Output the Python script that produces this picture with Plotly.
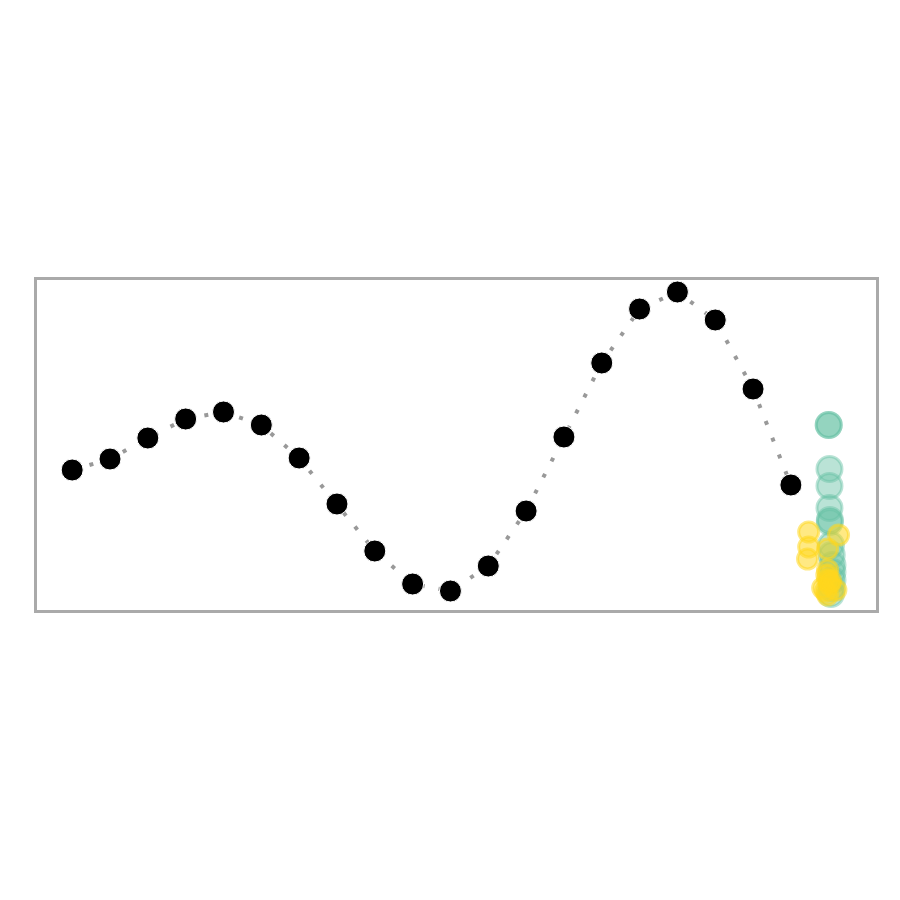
import plotly.graph_objects as go

# main series
x_main = list(range(20))
y_main = [1.40, 1.51, 1.72, 1.91, 1.98, 1.85, 1.52, 1.06, 0.59, 0.26,
          0.19, 0.44, 0.99, 1.73, 2.47, 3.01, 3.18, 2.90, 2.21, 1.25]

# green cluster
x_green = [20.0, 20.0, 20.02, 20.02, 20.02, 20.03, 20.03, 20.06, 20.08, 20.1, 20.1, 20.1, 20.08, 20.06]
y_green = [1.85, 1.85, 1.41, 1.24, 1.02, 0.90, 0.88, 0.65, 0.55, 0.45, 0.38, 0.30, 0.22, 0.16]

# yellow cluster
x_yellow = [19.47, 20.26, 19.47, 19.44, 19.97, 19.97, 19.97, 19.84, 20.19, 19.97,
            19.95, 20.02, 19.92, 20.05]
y_yellow = [0.78, 0.75, 0.63, 0.51, 0.61, 0.40, 0.30, 0.22, 0.20, 0.15,
            0.35, 0.26, 0.19, 0.29]

fig = go.Figure()
fig.add_trace(go.Scatter(
    x=x_main, y=y_main, mode="lines",
    line=dict(color="#999999", width=4, dash="4px,14px"),
    hoverinfo="skip", showlegend=False))
fig.add_trace(go.Scatter(
    x=x_main, y=y_main, mode="markers",
    marker=dict(color="black", size=22, line=dict(color="white", width=1)),
    showlegend=False))
fig.add_trace(go.Scatter(
    x=x_green, y=y_green, mode="markers",
    marker=dict(color="rgba(102,194,165,0.45)", size=25,
                line=dict(color="rgba(102,194,165,0.45)", width=3)),
    showlegend=False))
fig.add_trace(go.Scatter(
    x=x_yellow, y=y_yellow, mode="markers",
    marker=dict(color="rgba(255,215,30,0.55)", size=20,
                line=dict(color="rgba(255,215,30,0.55)", width=3)),
    showlegend=False))

axis_common = dict(showgrid=False, zeroline=False, showticklabels=False, ticks="",
                   showline=True, linecolor="#aaaaaa", linewidth=2.5, mirror=True)
fig.update_layout(
    width=900, height=900,
    margin=dict(l=37, r=24, t=280, b=290),
    paper_bgcolor="white", plot_bgcolor="white",
    xaxis=dict(range=[-0.93, 21.25], **axis_common),
    yaxis=dict(range=[0, 3.30], **axis_common),
)
fig.write_html("out.html")
